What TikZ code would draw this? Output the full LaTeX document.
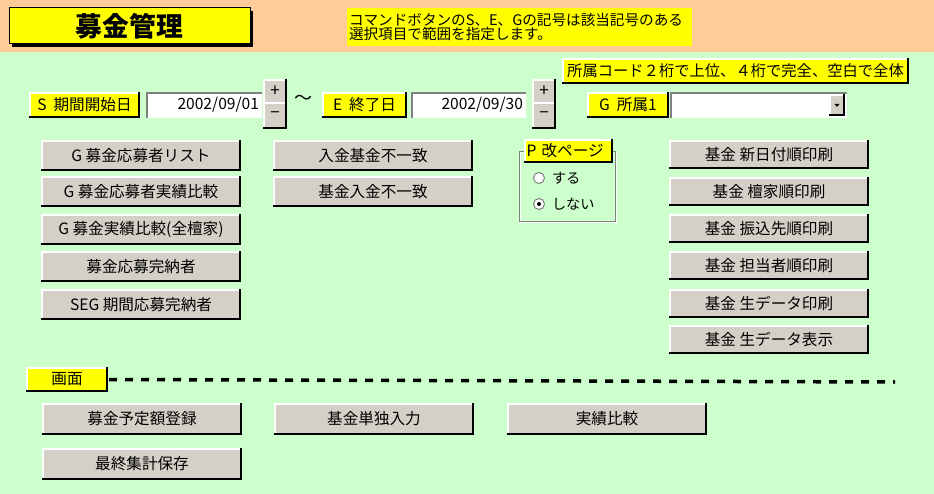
\documentclass[tikz,border=0pt]{standalone}
\usepackage{fontspec}
\setmainfont{Noto Sans CJK JP}
\usetikzlibrary{calc}
\definecolor{bggreen}{HTML}{CCFFCC}
\definecolor{hdrorange}{HTML}{FFCC99}
\definecolor{uiyellow}{HTML}{FFFF00}
\definecolor{btngray}{HTML}{D4D0C8}
\definecolor{edgegray}{HTML}{808080}
\newcommand\uifont{\fontsize{15.6}{17}\selectfont}
\newcommand\radiofont{\fontsize{14.2}{16}\selectfont}
\newcommand\notefont{\fontsize{14.6}{14.6}\selectfont}
\tikzset{
  hl/.style={draw=white, line width=1.2pt, line cap=rect},
  sh/.style={draw=black, line width=1.6pt, line cap=rect},
  dk/.style={draw=edgegray, line width=1.4pt, line cap=rect},
  raised/.style={append after command={
     (\tikzlastnode.south west) edge[hl] (\tikzlastnode.north west)
     (\tikzlastnode.north west) edge[hl] (\tikzlastnode.north east)
     (\tikzlastnode.north east) edge[sh] (\tikzlastnode.south east)
     (\tikzlastnode.south east) edge[sh] (\tikzlastnode.south west)}},
  sunken/.style={append after command={
     (\tikzlastnode.north east) edge[hl] (\tikzlastnode.south east)
     (\tikzlastnode.south east) edge[hl] (\tikzlastnode.south west)
     (\tikzlastnode.south west) edge[dk] (\tikzlastnode.north west)
     (\tikzlastnode.north west) edge[dk] (\tikzlastnode.north east)}},
  ui/.style={anchor=north west, inner sep=0pt, outer sep=0pt, font=\uifont, text=black},
  btn/.style={ui, fill=btngray, raised, minimum width=198pt, minimum height=29pt},
  rbtn/.style={btn, minimum height=27pt},
  ylabel/.style={ui, fill=uiyellow, raised, minimum height=24pt},
  field/.style={ui, fill=white, sunken, minimum height=24pt},
  spin/.style={ui, fill=btngray, raised, minimum width=22pt, font=\fontsize{17}{18}\selectfont},
  radio/.style={circle, fill=white, draw=edgegray, line width=1pt, minimum size=11pt, inner sep=0pt},
}
\begin{document}
\begin{tikzpicture}[x=1pt,y=-1pt]
\useasboundingbox (0,0) rectangle (934,494);
% backgrounds
\fill[bggreen] (0,0) rectangle (934,494);
\fill[hdrorange] (0,0) rectangle (934,52);
% title
\fill[black] (12,11) rectangle (253,47);
\node[ui, fill=uiyellow, draw=black, line width=1pt, minimum width=241pt, minimum height=36pt,
      font=\fontsize{26.8}{28}\selectfont\bfseries] (title) at (9,8) {募金管理};
% note
\node[ui, fill=uiyellow, minimum width=345pt, minimum height=38pt, inner xsep=2pt,
      text width=341pt, align=left, font=\notefont] (note) at (347,8)
      {コマンドボタンのS、E、Gの記号は該当記号のある\\選択項目で範囲を指定します。};
% affiliation note
\node[ylabel, minimum width=345pt, font=\fontsize{15.3}{16}\selectfont] (affnote) at (563,59) {所属コード２桁で上位、４桁で完全、空白で全体};
% period row
\node[ylabel, minimum width=109pt] (slabel) at (30,93) {S\ \ 期間開始日};
\node[field, minimum width=114pt, text width=110pt, align=right] (sdate) at (147,93) {2002/09/01};
\node[spin, minimum height=23pt] (splus) at (264,80) {+};
\node[spin, minimum height=25pt] (sminus) at (264,103) {−};
\node[ui, font=\fontsize{18}{18}\selectfont] (tilde) at (294,95) {～};
\node[ylabel, minimum width=83pt] (elabel) at (323,93) {E\ \ 終了日};
\node[field, minimum width=113pt, text width=109pt, align=right] (edate) at (412,93) {2002/09/30};
\node[spin, minimum height=23pt] (eplus) at (533,80) {+};
\node[spin, minimum height=25pt] (eminus) at (533,103) {−};
\node[ylabel, minimum width=80pt] (glabel) at (588,93) {G\ \ 所属1};
\node[field, minimum width=175pt] (combo) at (671,93) {};
\node[spin, minimum width=14pt, minimum height=20pt] (drop) at (830,95) {};
\fill[black] ($(drop.center)+(-2.5,-1)$) -- ($(drop.center)+(2.5,-1)$) -- ($(drop.center)+(0,1.8)$) -- cycle;
% left buttons
\node[btn] (b1) at (42,141) {G 募金応募者リスト};
\node[btn] (b2) at (42,177) {G 募金応募者実績比較};
\node[btn] (b3) at (42,215) {G 募金実績比較(全檀家)};
\node[btn] (b4) at (42,252) {募金応募完納者};
\node[btn] (b5) at (42,290) {SEG 期間応募完納者};
% middle buttons
\node[btn] (m1) at (274,141) {入金基金不一致};
\node[btn] (m2) at (274,177) {基金入金不一致};
% page break group
\draw[edgegray, line width=1pt] (519,152) rectangle (615,222);
\draw[white, line width=1pt] (520,153) -- (520,221) (520,153) -- (614,153) (520,223) -- (616,223) -- (616,153);
\node[ylabel, minimum width=87pt, minimum height=22pt, text width=84pt, align=left, inner xsep=1.5pt] (plabel) at (525,140) {P 改ページ};
\node[radio] (r1) at (539,178) {};
\node[radio] (r2) at (539,204) {};
\fill[black] (r2.center) circle (2pt);
\node[ui, anchor=west, font=\radiofont] (t1) at (552,178) {する};
\node[ui, anchor=west, font=\radiofont] (t2) at (552,204) {しない};
% right buttons
\node[rbtn] (p1) at (670,141) {基金 新日付順印刷};
\node[rbtn] (p2) at (670,178) {基金 檀家順印刷};
\node[rbtn] (p3) at (670,215) {基金 振込先順印刷};
\node[rbtn] (p4) at (670,252) {基金 担当者順印刷};
\node[rbtn] (p5) at (670,290) {基金 生データ印刷};
\node[rbtn] (p6) at (670,326) {基金 生データ表示};
% screen section
\node[ylabel, minimum width=80pt, minimum height=23pt] (gamen) at (27,368) {画面};
\coordinate (dashend) at (895,382);
\draw[black, line width=3.5pt, dash pattern=on 8pt off 8pt] ($(gamen.east)+(2,0)$) -- (dashend);
\node[btn, minimum height=30pt] (s1) at (43,404) {募金予定額登録};
\node[btn, minimum height=30pt] (s2) at (275,404) {基金単独入力};
\node[btn, minimum height=30pt] (s3) at (508,404) {実績比較};
\node[btn, minimum height=30pt] (s4) at (43,449) {最終集計保存};
\end{tikzpicture}
\end{document}
